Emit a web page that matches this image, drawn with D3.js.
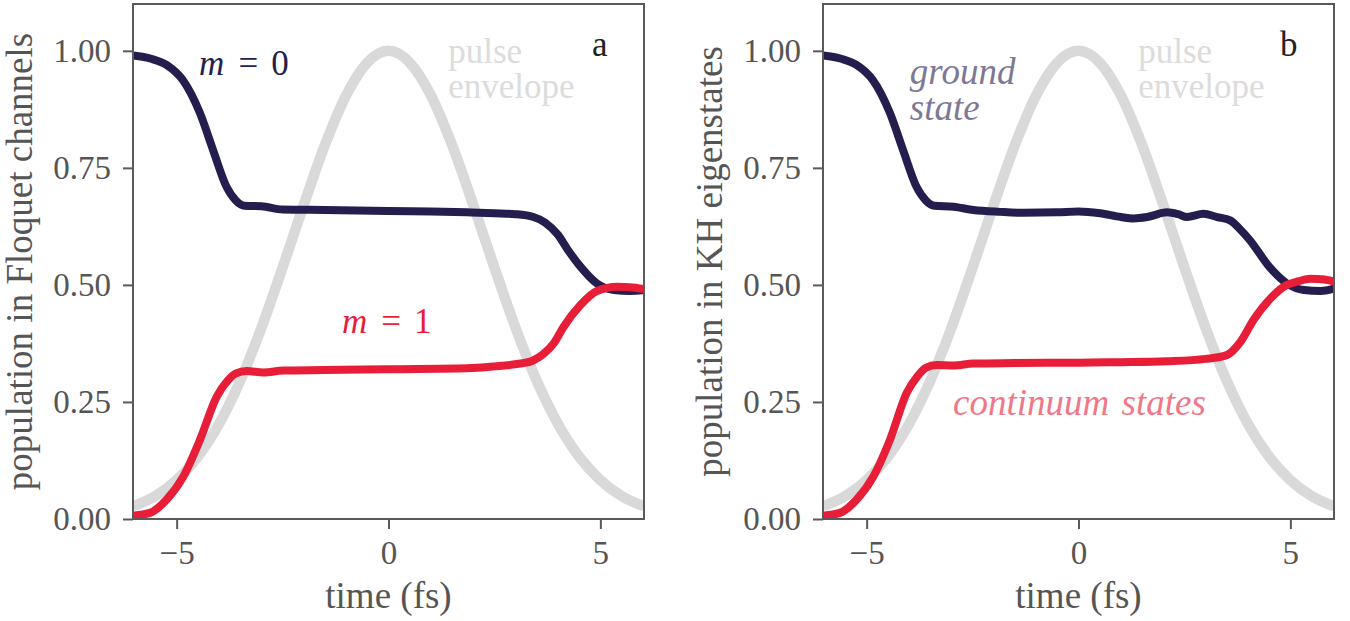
<!DOCTYPE html>
<html>
<head>
<meta charset="utf-8">
<script src="https://cdn.jsdelivr.net/npm/d3@7"></script>
<style>
  body { margin: 0; background: #fff; }
</style>
</head>
<body>
<div id="chart"></div>
<script>
// pulse envelope (same in both panels)
const pulseTime = [-6.03, -5.5, -5, -4.5, -4, -3.5, -3, -2.5, -2, -1.5, -1, -0.5, 0, 0.5, 1, 1.5, 2, 2.5, 3, 3.5, 4, 4.5, 5, 5.5, 6.03];
const pulseValue = [0.027, 0.049, 0.083, 0.133, 0.203, 0.295, 0.408, 0.537, 0.671, 0.799, 0.905, 0.975, 1.0, 0.975, 0.905, 0.799, 0.671, 0.537, 0.408, 0.295, 0.203, 0.133, 0.083, 0.049, 0.027];

// panel a: Floquet channels
const m0Time = [-6.03, -5.6, -5.24, -4.85, -4.45, -4.14, -3.82, -3.6, -3.4, -3.0, -2.5, -1.5, 0, 1.0, 1.85, 2.5, 3.0, 3.42, 3.7, 4.0, 4.21, 4.53, 4.92, 5.32, 5.7, 6.03];
const m0Value = [0.990, 0.983, 0.970, 0.937, 0.867, 0.788, 0.709, 0.680, 0.669, 0.668, 0.661, 0.660, 0.658, 0.657, 0.655, 0.653, 0.651, 0.645, 0.633, 0.607, 0.578, 0.539, 0.503, 0.489, 0.487, 0.489];
const m1Time = [-6.03, -5.63, -5.24, -4.84, -4.45, -4.05, -3.8, -3.6, -3.35, -2.95, -2.48, -1.5, 0, 1.85, 2.5, 3.03, 3.4, 3.65, 3.9, 4.13, 4.53, 4.92, 5.4, 5.7, 6.03];
const m1Value = [0.007, 0.013, 0.041, 0.091, 0.169, 0.262, 0.295, 0.311, 0.316, 0.313, 0.317, 0.318, 0.320, 0.322, 0.326, 0.331, 0.338, 0.352, 0.375, 0.410, 0.457, 0.487, 0.496, 0.495, 0.491];

// panel b: KH eigenstates
const groundTime = [-6.03, -5.6, -5.24, -4.85, -4.45, -4.14, -3.82, -3.6, -3.4, -2.95, -2.48, -1.85, -1.3, -0.5, 0, 0.51, 1.0, 1.3, 1.62, 2.09, 2.35, 2.56, 2.95, 3.27, 3.58, 3.8, 4.04, 4.5, 4.92, 5.32, 5.71, 6.03];
const groundValue = [0.990, 0.983, 0.970, 0.937, 0.867, 0.788, 0.709, 0.680, 0.669, 0.667, 0.660, 0.656, 0.654, 0.655, 0.657, 0.653, 0.645, 0.642, 0.645, 0.655, 0.651, 0.645, 0.652, 0.645, 0.638, 0.620, 0.596, 0.539, 0.503, 0.489, 0.487, 0.492];
const contTime = [-6.03, -5.63, -5.24, -4.84, -4.45, -4.05, -3.8, -3.6, -3.35, -2.95, -2.48, -1.5, 0, 1.0, 2.09, 3.0, 3.5, 3.82, 4.13, 4.53, 4.92, 5.2, 5.47, 5.75, 6.03];
const contValue = [0.007, 0.013, 0.041, 0.091, 0.169, 0.270, 0.305, 0.323, 0.329, 0.328, 0.332, 0.333, 0.334, 0.335, 0.337, 0.342, 0.350, 0.378, 0.425, 0.471, 0.500, 0.508, 0.513, 0.512, 0.507];

const yTicks = [0, 0.25, 0.5, 0.75, 1.0];
const xTicks = [-5, 0, 5];

const navy = "#241e4e", red = "#e81d38", grey = "#d9d9d9";
const serif = '"Liberation Serif"';

const panels = [
    {
        left: 133, letter: "a", ylabel: "population in Floquet channels",
        series: [
            {t: m0Time, v: m0Value, color: navy},
            {t: m1Time, v: m1Value, color: red}
        ]
    },
    {
        left: 823, letter: "b", ylabel: "population in KH eigenstates",
        series: [
            {t: groundTime, v: groundValue, color: navy},
            {t: contTime, v: contValue, color: red}
        ]
    }
];

const width = 1350, height = 621;
const plotW = 511, plotTop = 4, plotBottom = 519;

const svg = d3.select("#chart").append("svg")
    .attr("width", width)
    .attr("height", height)
    .style("font-family", serif);

function label(sel, size, color) {
    return sel.append("text")
        .style("font-family", serif)
        .style("font-size", size + "px")
        .attr("fill", color);
}

panels.forEach((p, pi) => {
    const x = d3.scaleLinear().domain([-6.03, 6.03]).range([p.left, p.left + plotW]);
    const y = d3.scaleLinear().domain([0, 1.1]).range([plotBottom, plotTop]);

    const g = svg.append("g");

    g.append("clipPath").attr("id", "clip" + pi)
        .append("rect")
        .attr("x", p.left).attr("y", plotTop)
        .attr("width", plotW).attr("height", plotBottom - plotTop);

    const line = d3.line()
        .x(d => x(d[0]))
        .y(d => y(d[1]))
        .curve(d3.curveMonotoneX);

    const lines = g.append("g").attr("clip-path", `url(#clip${pi})`).attr("fill", "none");

    lines.append("path")
        .datum(d3.zip(pulseTime, pulseValue))
        .attr("stroke", grey)
        .attr("stroke-width", 10.5)
        .attr("d", line);

    p.series.forEach(s => {
        lines.append("path")
            .datum(d3.zip(s.t, s.v))
            .attr("stroke", s.color)
            .attr("stroke-width", 8)
            .attr("stroke-linecap", "round")
            .attr("d", line);
    });

    // frame
    g.append("rect")
        .attr("x", p.left).attr("y", plotTop)
        .attr("width", plotW).attr("height", plotBottom - plotTop)
        .attr("fill", "none")
        .attr("stroke", "#5a5a5a")
        .attr("stroke-width", 2);

    const yAxis = g.append("g")
        .attr("transform", `translate(${p.left},0)`)
        .call(d3.axisLeft(y).tickValues(yTicks).tickFormat(d3.format(".2f")).tickSize(10).tickPadding(12));
    const xAxis = g.append("g")
        .attr("transform", `translate(0,${plotBottom})`)
        .call(d3.axisBottom(x).tickValues(xTicks).tickFormat(d => d < 0 ? "\u2212" + Math.abs(d) : d).tickSize(10).tickPadding(12));

    [yAxis, xAxis].forEach(a => {
        a.attr("font-family", null).attr("font-size", null);
        a.select(".domain").remove();
        a.selectAll(".tick line").attr("stroke", "#5a5a5a").attr("stroke-width", 2);
        a.selectAll(".tick text")
            .attr("fill", "#555")
            .style("font-family", serif)
            .style("font-size", "33px");
    });

    label(g, 37, "#555")
        .attr("transform", `translate(${p.left - 101},${(plotTop + plotBottom) / 2}) rotate(-90)`)
        .attr("text-anchor", "middle")
        .text(p.ylabel);

    label(g, 37, "#555")
        .attr("x", p.left + plotW / 2)
        .attr("y", 608)
        .attr("text-anchor", "middle")
        .text("time (fs)");

    label(g, 35, "#222")
        .attr("x", x(5.17)).attr("y", y(0.988))
        .attr("text-anchor", "end")
        .text(p.letter);

    const pulse = label(g, 35, "#dcdcdc");
    pulse.append("tspan").attr("x", x(1.41)).attr("y", y(0.973)).text("pulse");
    pulse.append("tspan").attr("x", x(1.41)).attr("y", y(0.899)).text("envelope");

    if (pi === 0) {
        const m0 = label(g, 35, navy).attr("x", x(-4.47)).attr("y", y(0.948));
        m0.append("tspan").style("font-style", "italic").text("m");
        m0.append("tspan").attr("dx", 14).text("=");
        m0.append("tspan").attr("dx", 13).text("0");

        const m1 = label(g, 35, red).attr("x", x(-1.10)).attr("y", y(0.397));
        m1.append("tspan").style("font-style", "italic").text("m");
        m1.append("tspan").attr("dx", 14).text("=");
        m1.append("tspan").attr("dx", 13).text("1");
    } else {
        const gs = label(g, 37, "#7c7895").style("font-style", "italic");
        gs.append("tspan").attr("x", x(-3.98)).attr("y", y(0.930)).text("ground");
        gs.append("tspan").attr("x", x(-3.98)).attr("y", y(0.852)).text("state");

        label(g, 37, "#f17788")
            .attr("x", x(-2.96)).attr("y", y(0.222))
            .style("font-style", "italic")
            .style("word-spacing", "3px")
            .text("continuum states");
    }
});
</script>
</body>
</html>
